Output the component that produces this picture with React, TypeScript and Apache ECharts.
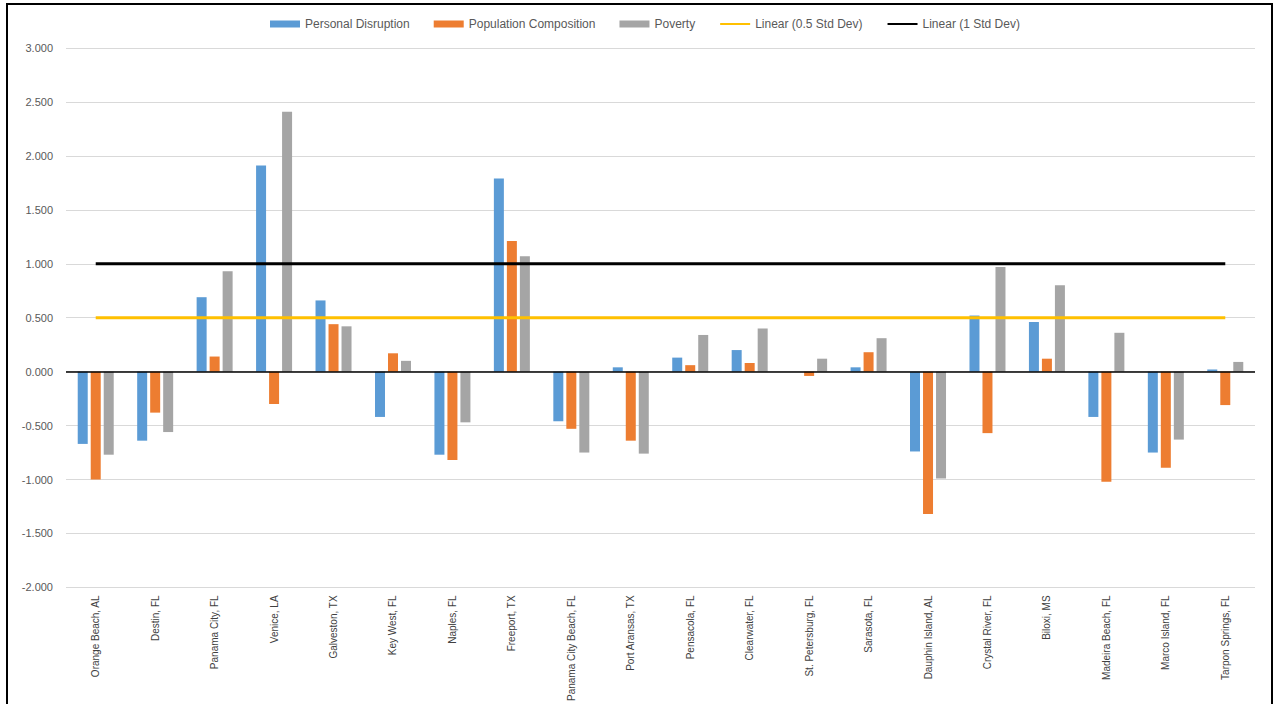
import React, { useEffect, useRef } from "react";
import * as echarts from "echarts";

const categories = [
  "Orange Beach, AL", "Destin, FL", "Panama City, FL", "Venice, LA", "Galveston, TX",
  "Key West, FL", "Naples, FL", "Freeport, TX", "Panama City Beach, FL", "Port Aransas, TX",
  "Pensacola, FL", "Clearwater, FL", "St. Petersburg, FL", "Sarasota, FL", "Dauphin Island, AL",
  "Crystal River, FL", "Biloxi, MS", "Madeira Beach, FL", "Marco Island, FL", "Tarpon Springs, FL",
];

const personalDisruption = [
  -0.67, -0.64, 0.69, 1.91, 0.66, -0.42, -0.77, 1.79, -0.46, 0.04,
  0.13, 0.2, 0.0, 0.04, -0.74, 0.52, 0.46, -0.42, -0.75, 0.02,
];
const populationComposition = [
  -1.0, -0.38, 0.14, -0.3, 0.44, 0.17, -0.82, 1.21, -0.53, -0.64,
  0.06, 0.08, -0.04, 0.18, -1.32, -0.57, 0.12, -1.02, -0.89, -0.31,
];
const poverty = [
  -0.77, -0.56, 0.93, 2.41, 0.42, 0.1, -0.47, 1.07, -0.75, -0.76,
  0.34, 0.4, 0.12, 0.31, -0.99, 0.97, 0.8, 0.36, -0.63, 0.09,
];
const halfStdDev = 0.5;
const oneStdDev = 1.0;
const halfStdLine = categories.map(() => halfStdDev);
const oneStdLine = categories.map(() => oneStdDev);

const yTicks = { min: -2, max: 3, interval: 0.5 };

const FONT = "'Liberation Sans', Arial, sans-serif";

export default function App() {
  const ref = useRef<HTMLDivElement>(null);
  useEffect(() => {
    if (!ref.current) return;
    const chart = echarts.init(ref.current, undefined, { renderer: "svg" });
    const barBase = {
      type: "bar" as const,
      barWidth: 10,
      barGap: "30%",
    };
    chart.setOption({
      animation: false,
      backgroundColor: "#ffffff",
      textStyle: { fontFamily: FONT },
      legend: {
        top: 13,
        left: 265,
        itemWidth: 30,
        itemHeight: 7,
        itemGap: 24,
        textStyle: { fontSize: 12, color: "#595959", fontFamily: FONT },
        data: [
          { name: "Personal Disruption", icon: "rect" },
          { name: "Population Composition", icon: "rect" },
          { name: "Poverty", icon: "rect" },
          { name: "Linear (0.5 Std Dev)", itemStyle: { opacity: 0 } },
          { name: "Linear (1 Std Dev)", itemStyle: { opacity: 0 } },
        ],
      },
      grid: { left: 66, right: 18, top: 48, bottom: 116, containLabel: false },
      xAxis: {
        type: "category",
        data: categories,
        axisLine: { show: false, onZero: false },
        axisTick: { show: false },
        axisLabel: {
          rotate: 90,
          interval: 0,
          fontSize: 10,
          color: "#404040",
          margin: 8,
          fontFamily: FONT,
        },
      },
      yAxis: {
        type: "value",
        min: yTicks.min,
        max: yTicks.max,
        interval: yTicks.interval,
        axisLine: { show: false },
        axisTick: { show: false },
        splitLine: { lineStyle: { color: "#d9d9d9", width: 1 } },
        axisLabel: {
          formatter: (v: number) => v.toFixed(3),
          fontSize: 11,
          color: "#595959",
          margin: 13,
          fontFamily: FONT,
        },
      },
      series: [
        {
          ...barBase,
          name: "Personal Disruption",
          data: personalDisruption,
          itemStyle: { color: "#5B9BD5" },
          markLine: {
            silent: true,
            symbol: "none",
            label: { show: false },
            lineStyle: { color: "#000000", width: 1.5, type: "solid" },
            data: [{ yAxis: 0 }],
          },
        },
        {
          ...barBase,
          name: "Population Composition",
          data: populationComposition,
          itemStyle: { color: "#ED7D31" },
        },
        {
          ...barBase,
          name: "Poverty",
          data: poverty,
          itemStyle: { color: "#A5A5A5" },
        },
        {
          type: "line",
          name: "Linear (0.5 Std Dev)",
          data: halfStdLine,
          symbol: "none",
          lineStyle: { color: "#FFC000", width: 3 },
          itemStyle: { color: "#FFC000" },
        },
        {
          type: "line",
          name: "Linear (1 Std Dev)",
          data: oneStdLine,
          symbol: "none",
          lineStyle: { color: "#000000", width: 3 },
          itemStyle: { color: "#000000" },
        },
      ],
    });
    return () => chart.dispose();
  }, []);
  return (
    <div style={{ position: "absolute", left: 0, top: 0, width: 1273, height: 704, overflow: "hidden", background: "#fff" }}>
      <div ref={ref} style={{ position: "absolute", left: 0, top: 0, width: 1273, height: 704 }} />
      <div
        style={{
          position: "absolute",
          left: 6,
          top: 3,
          width: 1263,
          height: 720,
          borderLeft: "2px solid #000",
          borderTop: "2px solid #000",
          borderRight: "2px solid #000",
          pointerEvents: "none",
        }}
      />
    </div>
  );
}
